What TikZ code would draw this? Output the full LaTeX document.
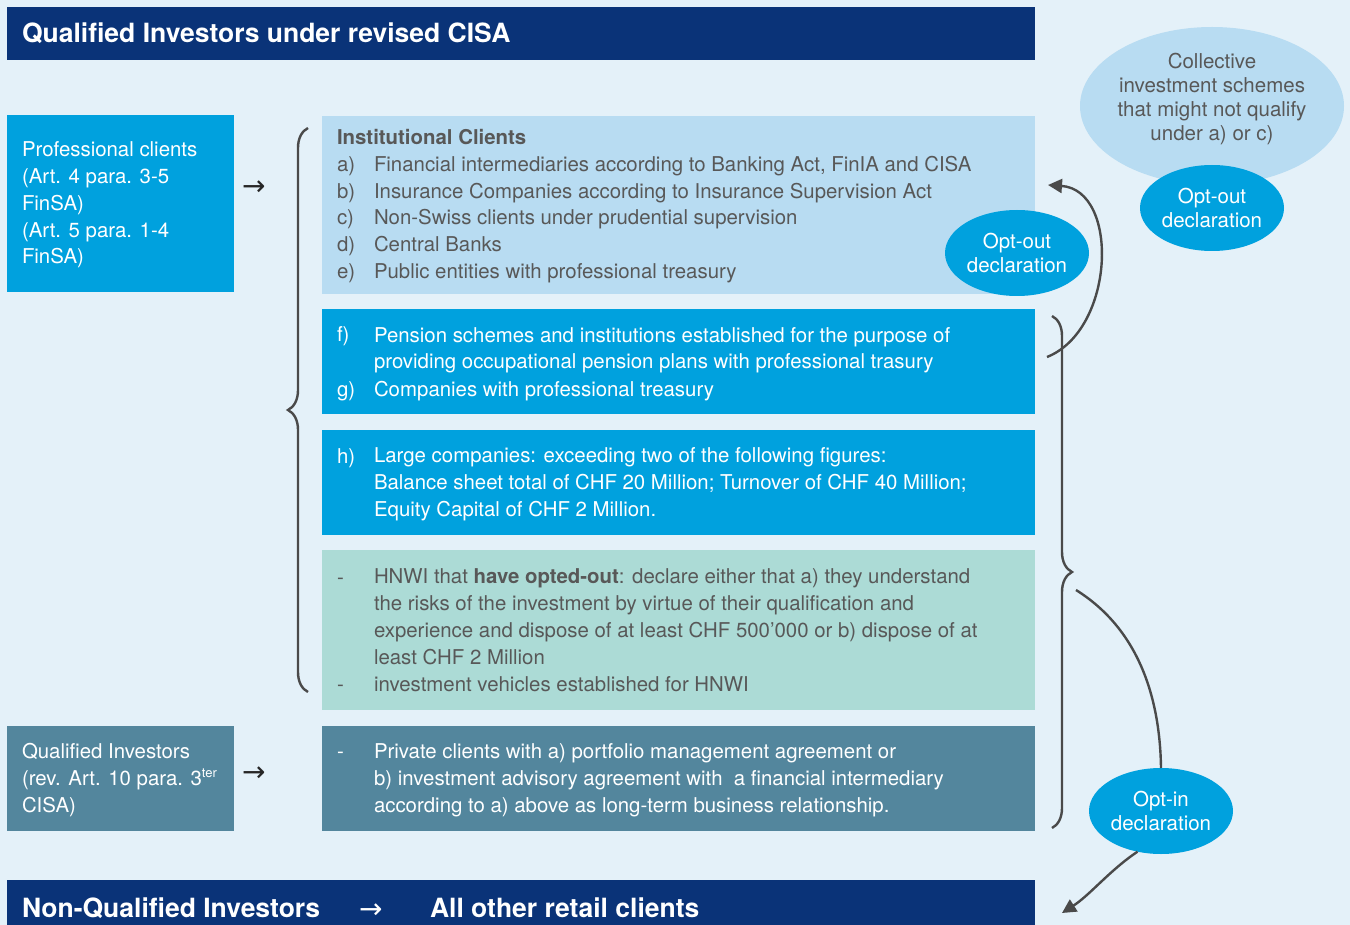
\documentclass[tikz,border=0pt]{standalone}
\usepackage{fontspec}
\setmainfont{TeX Gyre Heros}
\newfontfamily\arrowfont{DejaVu Sans}
\usetikzlibrary{shapes.geometric,arrows.meta,decorations.pathreplacing}
\definecolor{navy}{HTML}{0A3378}
\definecolor{cyanbox}{HTML}{00A1DE}
\definecolor{paleblue}{HTML}{B8DCF2}
\definecolor{mint}{HTML}{ACDBD6}
\definecolor{slate}{HTML}{53869D}
\definecolor{bgblue}{HTML}{E4F1F9}
\definecolor{greytext}{HTML}{585858}
\definecolor{linegrey}{HTML}{4A4A4A}
\begin{document}
\begin{tikzpicture}
[x=1pt,y=-1pt,
box/.style args={#1x#2}{anchor=north west,minimum width=#1pt,minimum height=#2pt},
txt/.style={anchor=base west,align=left},
oval/.style={shape=ellipse,fill=cyanbox,text=white,minimum width=144pt,minimum height=86pt,align=center,font=\fontsize{20.5}{24}\selectfont},
brc/.style={draw=linegrey,line width=2.4pt,decorate,decoration={brace,amplitude=20pt}},
curveline/.style={draw=linegrey,line width=2.4pt},
headfont/.style={font=\fontsize{26.5}{30}\selectfont\bfseries},
arrowtext/.style={anchor=base west,font=\fontsize{28}{30}\selectfont\arrowfont}
]
\tikzset{every node/.style={inner sep=0pt,outer sep=0pt,font=\fontsize{20.4}{26.8}\selectfont}}
\fill[bgblue] (0,0) rectangle (1350,925);
\useasboundingbox (0,0) rectangle (1350,925);

% headers
\node[box=1028x53,fill=navy] (top) at (7,7) {};
\node[txt,text=white,headfont] (toptitle) at (22,43) {Qualified Investors under revised CISA};
\node[box=1028x45,fill=navy] (bottom) at (7,880) {};
\node[txt,text=white,headfont] (nonq) at (22,917) {Non-Qualified Investors};
\node[arrowtext,text=white] (nonqarrow) at (359,918) {→};
\node[txt,text=white,headfont] (retail) at (430,917) {All other retail clients};

% left boxes (multi-line texts sit on their last baseline)
\node[box=227x177,fill=cyanbox] (prof) at (7,115) {};
\node[txt,text=white] (proftext) at (22,264) {Professional clients\\(Art. 4 para. 3-5\\FinSA)\\(Art. 5 para. 1-4\\FinSA)};
\node[arrowtext,text=black!85] (profarrow) at (242,196) {→};
\node[box=227x105,fill=slate] (qual) at (7,726) {};
\node[txt,text=white] (qualtext) at (22,812) {Qualified Investors\\(rev. Art. 10 para. 3\textsuperscript{\fontsize{13}{13}\selectfont ter}\\CISA)};
\node[arrowtext,text=black!85] (qualarrow) at (242,781) {→};

% institutional clients
\node[box=713x178,fill=paleblue] (inst) at (322,116) {};
\node[txt,text=greytext,font=\fontsize{20.4}{26.8}\selectfont\bfseries] (insttitle) at (337,145) {Institutional Clients};
\node[txt,text=greytext] (la) at (337,172) {a)};
\node[txt,text=greytext] (ta) at (374,172) {Financial intermediaries according to Banking Act, FinIA and CISA};
\node[txt,text=greytext] (lb) at (337,199) {b)};
\node[txt,text=greytext] (tb) at (374,199) {Insurance Companies according to Insurance Supervision Act};
\node[txt,text=greytext] (lc) at (337,225) {c)};
\node[txt,text=greytext] (tc) at (374,225) {Non-Swiss clients under prudential supervision};
\node[txt,text=greytext] (ld) at (337,252) {d)};
\node[txt,text=greytext] (td) at (374,252) {Central Banks};
\node[txt,text=greytext] (le) at (337,279) {e)};
\node[txt,text=greytext] (te) at (374,279) {Public entities with professional treasury};

\node[box=713x105,fill=cyanbox] (pension) at (322,309) {};
\node[txt,text=white] (lf) at (337,342) {f)};
\node[txt,text=white] (tf) at (374,369) {Pension schemes and institutions established for the purpose of\\providing occupational pension plans with professional trasury};
\node[txt,text=white] (lg) at (337,396) {g)};
\node[txt,text=white] (tg) at (374,396) {Companies with professional treasury};

\node[box=713x105,fill=cyanbox] (large) at (322,430) {};
\node[txt,text=white] (lh) at (337,463) {h)};
\node[txt,text=white] (th) at (374,516) {Large companies: exceeding two of the following figures:\\Balance sheet total of CHF 20 Million; Turnover of CHF 40 Million;\\Equity Capital of CHF 2 Million.};

\node[box=713x160,fill=mint] (hnwi) at (322,550) {};
\node[txt,text=greytext] (lhnwi) at (337,584) {-};
\node[txt,text=greytext] (thnwi) at (374,664) {HNWI that \textbf{have opted-out}: declare either that a) they understand\\the risks of the investment by virtue of their qualification and\\experience and dispose of at least CHF 500’000 or b) dispose of at\\least CHF 2 Million};
\node[txt,text=greytext] (lveh) at (337,691) {-};
\node[txt,text=greytext] (tveh) at (374,691) {investment vehicles established for HNWI};

\node[box=713x105,fill=slate] (private) at (322,726) {};
\node[txt,text=white] (lpriv) at (337,758) {-};
\node[txt,text=white] (tpriv) at (374,812) {Private clients with a) portfolio management agreement or\\b) investment advisory agreement with \ a financial intermediary\\according to a) above as long-term business relationship.};

% braces
\draw[brc] (308,692) -- (308,128);
\draw[brc] (1052,316) -- (1052,828);

% ovals
\node[shape=ellipse,fill=paleblue,minimum width=264pt,minimum height=158pt] (cis) at (1212,106) {};
\node[text=greytext,align=center,font=\fontsize{20.5}{24}\selectfont] (cistext) at (1212,99) {Collective\\investment schemes\\that might not qualify\\under a) or c)};
\node[oval] (optoutcis) at (1212,208) {Opt-out\\declaration};
\node[oval] (optout) at (1017,253) {Opt-out\\declaration};
\node[oval] (optin) at (1161,811) {Opt-in\\declaration};

% arrows
\coordinate (outstart) at (1047,357);
\coordinate (outend) at (1048,185);
\draw[curveline,-{Triangle[length=14pt,width=14pt]}] (outstart) .. controls (1115,330) and (1120,190) .. (outend);
\coordinate (instart) at (1076,590);
\draw[curveline] (instart) .. controls (1140,630) and (1160,700) .. (optin.north);
\coordinate (inend) at (1062,913);
\draw[curveline,-{Triangle[length=14pt,width=14pt]}] (optin.240) .. controls (1110,870) and (1090,895) .. (inend);
\end{tikzpicture}
\end{document}
